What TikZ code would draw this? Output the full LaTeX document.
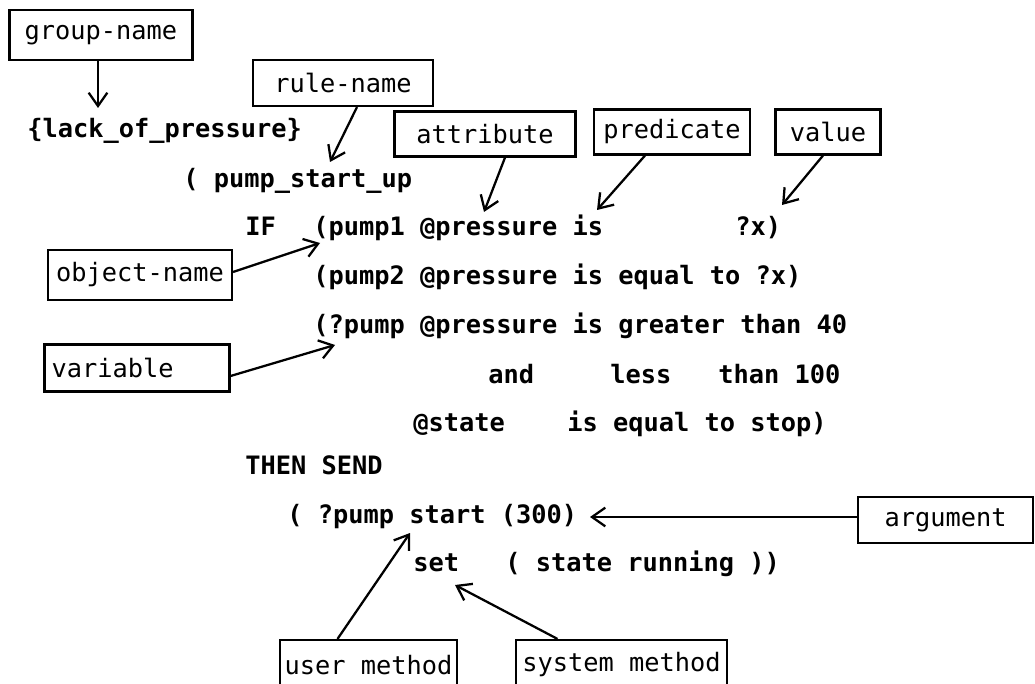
\documentclass[tikz,border=0pt]{standalone}
\usepackage{fontspec}
\setmonofont{DejaVu Sans Mono}
\usetikzlibrary{arrows.meta,calc}
\begin{document}
\begin{tikzpicture}[x=0.75pt,y=-0.75pt,
  every node/.style={font=\ttfamily\fontsize{19}{21}\selectfont},
  txt/.style={anchor=base west,inner sep=0pt,font=\ttfamily\bfseries\fontsize{19}{21}\selectfont},
  lbl/.style={draw,line width=1.6pt,inner sep=0pt,anchor=center},
  arr/.style={line width=1.7pt,-{Straight Barb[length=10pt,width=14pt,line width=1.7pt]}}]
\useasboundingbox (0,0) rectangle (1035,684);
\clip (0,0) rectangle (1035,684);
% label boxes
\node[lbl,minimum width=183*0.75pt,minimum height=50*0.75pt] (gn) at (101,35) {group-name};
\node[lbl,minimum width=180*0.75pt,minimum height=46*0.75pt] (rn) at (343,83) {rule-name};
\node[lbl,minimum width=181*0.75pt,minimum height=45*0.75pt] (at) at (485,134) {attribute};
\node[lbl,minimum width=156*0.75pt,minimum height=45*0.75pt] (pr) at (672,132) {predicate};
\node[lbl,minimum width=105*0.75pt,minimum height=45*0.75pt] (va) at (828,132) {value};
\node[lbl,minimum width=184*0.75pt,minimum height=50*0.75pt] (on) at (140,275) {object-name};
\node[lbl,minimum height=47*0.75pt,text width=171*0.75pt,align=left,inner xsep=7*0.75pt] (vr) at (137,368) {variable};
\node[lbl,minimum width=175*0.75pt,minimum height=46*0.75pt] (ag) at (945.5,520) {argument};
\node[lbl,minimum width=177*0.75pt,minimum height=50*0.75pt] (um) at (368.5,665) {user method};
\node[lbl,minimum width=211*0.75pt,minimum height=50*0.75pt] (sm) at (621.5,665) {system method};
% code text
\node[txt] (t1) at (27,138) {\{lack\_of\_pressure\}};
\node[txt] (t2) at (183,188) {( pump\_start\_up};
\node[txt] (t3) at (245,236) {IF};
\node[txt] (t4) at (313,236) {(pump1 @pressure is};
\node[txt] (t5) at (735,236) {?x)};
\node[txt] (t6) at (313,285) {(pump2 @pressure is equal to ?x)};
\node[txt] (t7) at (313,334) {(?pump @pressure is greater than 40};
\node[txt] (t8) at (488,383) {and};
\node[txt] (t9) at (610,383) {less};
\node[txt] (t10) at (718,383) {than 100};
\node[txt] (t11) at (413,431) {@state};
\node[txt] (t12) at (567,431) {is equal to stop)};
\node[txt] (t13) at (245,474) {THEN SEND};
\node[txt] (t14) at (287,523) {( ?pump start (300)};
\node[txt] (t15) at (413,571) {set};
\node[txt] (t16) at (505,571) {( state running ))};
% arrow targets
\coordinate (cg) at (98,108);
\coordinate (cr) at (330,162);
\coordinate (ca) at (484,212);
\coordinate (cp) at (597,210);
\coordinate (cv) at (782,205);
\coordinate (co) at (320,243);
\coordinate (cvr) at (335,345);
\coordinate (cag) at (590,517);
\coordinate (cum) at (410,533);
\coordinate (csm) at (455,585);
% arrows
\draw[arr] ($(gn.south)+(-3,0)$) -- (cg);
\draw[arr] ($(rn.south)+(14,0)$) -- (cr);
\draw[arr] ($(at.south)+(20,0)$) -- (ca);
\draw[arr] ($(pr.south)+(-27,0)$) -- (cp);
\draw[arr] ($(va.south)+(-5,0)$) -- (cv);
\draw[arr] ($(on.east)+(0,-3)$) -- (co);
\draw[arr] ($(vr.east)+(0,8)$) -- (cvr);
\draw[arr] ($(ag.west)+(0,-3)$) -- (cag);
\draw[arr] ($(um.north)+(-31,0)$) -- (cum);
\draw[arr] ($(sm.north)+(-64,0)$) -- (csm);
\end{tikzpicture}
\end{document}
